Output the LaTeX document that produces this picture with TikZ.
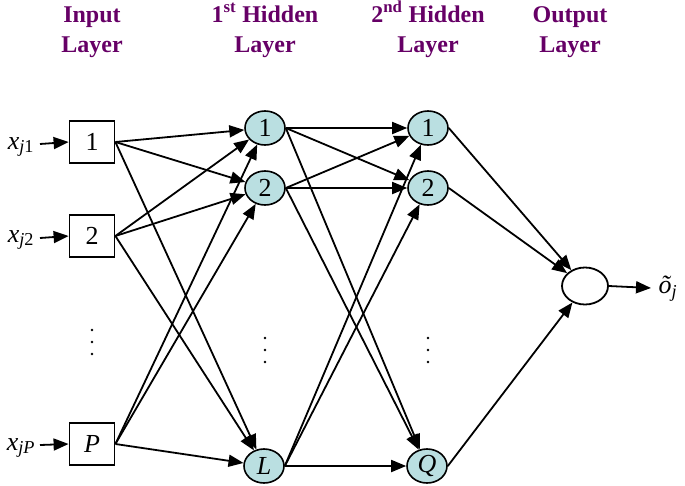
\documentclass[tikz,border=0pt]{standalone}
\usepackage{fontspec}
\setmainfont{Liberation Serif}
\newfontfamily\hdrfont{Liberation Serif Bold}
\usetikzlibrary{shapes.geometric,arrows.meta}
\definecolor{hdrpurple}{HTML}{660066}
\definecolor{nodeblue}{HTML}{BADFE1}
\begin{document}
\begin{tikzpicture}[x=1pt,y=-1pt,
  every node/.style={font=\fontsize{26}{28}\selectfont},
  inbox/.style={draw,line width=1.8pt,minimum width=45pt,minimum height=42pt,inner sep=0pt},
  hid/.style={ellipse,draw,line width=1.6pt,fill=nodeblue,minimum width=40pt,minimum height=34pt,inner sep=0pt},
  outn/.style={ellipse,draw,line width=1.8pt,fill=white,minimum width=46pt,minimum height=37pt,inner sep=0pt},
  hdr/.style={align=center,anchor=base,text=hdrpurple,font=\hdrfont\fontsize{24}{30}\selectfont},
  conn/.style={line width=1.8pt,-{Triangle[length=15pt,width=12pt]}},
  lbl/.style={inner sep=0pt}]
\useasboundingbox (0,0) rectangle (685,485);
% headers
\node[hdr] (h0) at (92,52) {Input\\Layer};
\node[hdr] (h1) at (265,52) {1\textsuperscript{st} Hidden\\Layer};
\node[hdr] (h2) at (428,52) {2\textsuperscript{nd} Hidden\\Layer};
\node[hdr] (h3) at (570,52) {Output\\Layer};
% input layer
\node[inbox] (i1) at (92,142) {1};
\node[inbox] (i2) at (92,236) {2};
\node[inbox] (iP) at (92,444) {\textit{P}};
\node[lbl] (x1) at (21,147) {\textit{x}\textsubscript{\textit{j}1}};
\node[lbl] (x2) at (21,240) {\textit{x}\textsubscript{\textit{j}2}};
\node[lbl] (xP) at (21,448) {\textit{x}\textsubscript{\textit{jP}}};
\draw[conn] (40,144) -- (i1.west);
\draw[conn] (40,238) -- (i2.west);
\draw[conn] (40,445) -- (iP.west);
% hidden 1
\node[hid] (a1) at (265,128) {1};
\node[hid] (a2) at (265,188) {2};
\node[hid] (aL) at (264,466) {\textit{L}};
% hidden 2
\node[hid] (b1) at (428,128) {1};
\node[hid] (b2) at (428,188) {2};
\node[hid] (bQ) at (427,466) {\textit{Q}};
% output
\node[outn] (o) at (585,286) {};
\node[lbl] (ol) at (668,289) {\textit{õ}\textsubscript{\textit{j}}};
\draw[conn] (o.east) -- (651,288);
% dots
\foreach \x/\y in {92/342, 265/350, 428/350}{
  \fill (\x,\y-12) circle (1.3pt);
  \fill (\x,\y) circle (1.3pt);
  \fill (\x,\y+12) circle (1.3pt);
}
% connections input -> hidden1
\foreach \s in {i1,i2,iP}{
  \foreach \t in {a1,a2,aL}{
    \draw[conn] (\s.east) -- (\t);
  }
}
% hidden1 -> hidden2
\foreach \s in {a1,a2,aL}{
  \foreach \t in {b1,b2,bQ}{
    \draw[conn] (\s.east) -- (\t);
  }
}
% hidden2 -> output
\foreach \s in {b1,b2,bQ}{
  \draw[conn] (\s.east) -- (o);
}
\end{tikzpicture}
\end{document}
